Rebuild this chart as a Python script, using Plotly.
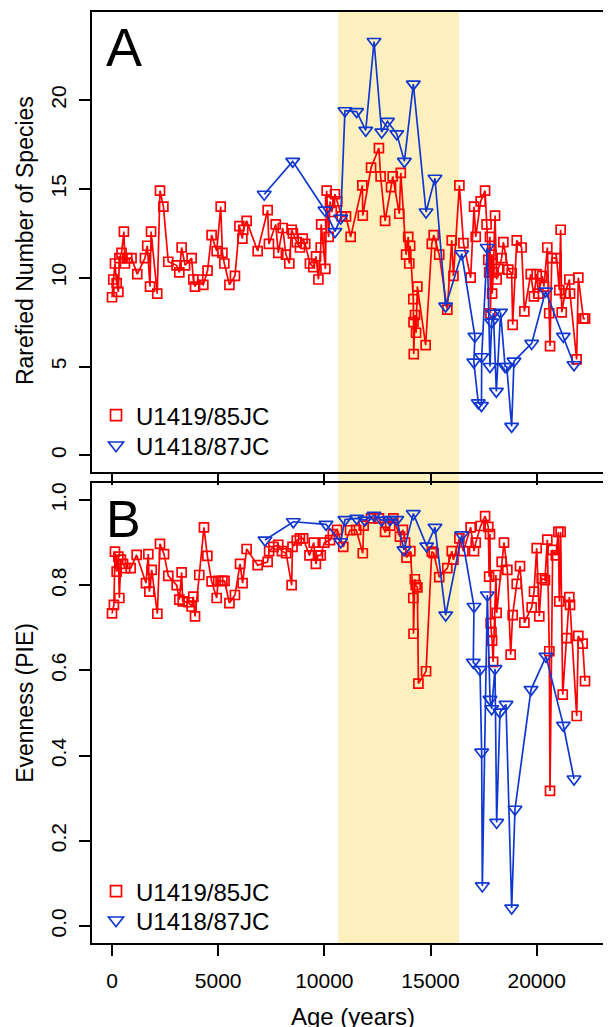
import plotly.graph_objects as go

# ---------------- data ----------------
red_a_age = [0, 60, 140, 220, 300, 350, 450, 560, 610, 720, 920, 1190, 1550, 1660, 1790, 1840,
             2130, 2260, 2420, 2650, 3040, 3170, 3280, 3440, 3750, 3830, 3910, 4060, 4300, 4500,
             4690, 4930, 5120, 5200, 5290, 5530, 5790, 6000, 6140, 6180, 6340, 6860, 7330, 7390,
             7710, 7830, 8040, 8190, 8350, 8460, 8520, 8700, 8850, 8980, 9100, 9320, 9480, 9610,
             9720, 9830, 9850, 10050, 10110, 10200, 10270, 10350, 10500, 10610, 10820, 11020,
             11240, 11790, 11810, 12200, 12570, 12650, 12860, 13140, 13220, 13530, 13600, 13850,
             13950, 14000, 14040, 14190, 14200, 14210, 14270, 14320, 14380, 14770, 15060, 15150,
             15410, 15790, 16000, 16080, 16360, 16550, 16890, 17050, 17130, 17360, 17570, 17640,
             17720, 17760, 17800, 17820, 17880, 17900, 17960, 18040, 18115, 18190, 18350, 18430,
             18660, 18820, 18870, 19060, 19290, 19420, 19720, 19870, 20000, 20080, 20260, 20340,
             20500, 20590, 20630, 20710, 20940, 21064, 21128, 21180, 21330, 21540, 21570, 21880,
             21960, 22200, 22280]
red_a_val = [8.9, 9.9, 10.8, 9.7, 9.2, 11.1, 11.4, 12.6, 10.8, 11.1, 11.1, 10.2, 11.1, 11.8, 9.5, 12.6,
             9.1, 14.9, 14.0, 10.9, 10.7, 10.3, 11.7, 10.7, 11.1, 9.9, 9.5, 9.9, 9.6, 10.4,
             12.4, 11.5, 14.0, 11.4, 10.8, 9.6, 10.1, 12.9, 12.2, 12.7, 13.2, 11.5, 13.8, 11.9,
             13.0, 11.4, 12.8, 11.3, 10.8, 12.7, 12.5, 12.0, 11.7, 12.2, 11.9, 10.8, 10.6, 11.2,
             9.9, 11.7, 13.0, 10.5, 14.9, 12.3, 14.3, 13.7, 14.7, 14.3, 13.45, 13.45,
             12.3, 15.2, 13.5, 16.2, 17.3, 15.7, 13.2, 15.1, 15.7, 13.6, 15.9, 11.3,
             12.3, 10.8, 11.8, 8.8, 7.5, 5.7, 7.9, 6.9, 9.5, 6.2, 11.9, 12.4,
             11.3, 8.2, 12.1, 10.1, 15.2, 11.95, 10.0, 14.0, 12.3, 14.3, 14.9, 13.0,
             11.0, 10.3, 12.3, 8.0, 11.3, 9.1, 10.3, 13.5, 9.9, 10.5, 11.1, 12.0,
             10.45, 10.26, 7.35, 12.1, 11.7, 8.1, 10.2, 8.95, 10.2, 9.1, 10.1, 9.5,
             11.7, 8.0, 6.15, 11.1, 11.1, 9.3, 12.7, 8.05, 9.1, 9.9, 9.1, 5.4,
             10.0, 7.7, 7.7]

blue_a_age = [7170, 8510, 10030, 10500, 10770, 10970, 11520, 11950, 12340, 12700, 12970, 13410,
              13770, 14190, 14790, 15210, 15710, 16470, 17090, 17040, 17250, 17400, 17410, 17670,
              17800, 17880, 17960, 18100, 18300, 18510, 18590, 18820, 18930, 19765, 20420, 21255,
              21757]
blue_a_val = [14.7, 16.55, 13.8, 12.6, 13.35, 19.4, 19.35, 18.3, 23.3, 18.2, 18.8, 18.1,
              16.55, 20.9, 13.7, 15.6, 8.4, 11.35, 6.7, 5.25, 2.95, 2.8, 5.55, 11.7,
              5.0, 7.5, 8.0, 3.6, 8.05, 5.0, 5.0, 1.63, 5.3, 6.3, 9.25, 6.7,
              5.1]

red_b_age = [0, 90, 140, 220, 300, 345, 420, 520, 620, 880, 1160, 1600, 1710, 1760, 1870, 2135,
             2260, 2450, 2650, 3045, 3170, 3280, 3330, 3600, 3750, 3830, 3910, 4110, 4330, 4490,
             4690, 4930, 5000, 5200, 5300, 5530, 5790, 6030, 6150, 6340, 6860, 7330, 7400, 7600,
             7830, 8000, 8200, 8460, 8500, 8700, 8850, 9000, 9300, 9500, 9600, 9700, 9830, 10000,
             10270, 10400, 10600, 10890, 11210, 11500, 11810, 11850, 12200, 12570, 12860, 13100,
             13250, 13560, 13700, 13800, 13870, 14050, 14190, 14200, 14260, 14300, 14380, 14430,
             14790, 15060, 15150, 15410, 15790, 16000, 16080, 16360, 16550, 16890, 17050, 17130,
             17360, 17570, 17720, 17760, 17800, 17830, 17870, 17900, 17950, 18080, 18115, 18350,
             18460, 18617, 18775, 18868, 19058, 19215, 19420, 19765, 19874, 20000, 20122, 20235,
             20390, 20500, 20594, 20627, 20753, 20900, 21020, 21064, 21128, 21226, 21413, 21536,
             21570, 21884, 21960, 22163, 22276]
red_b_val = [0.734, 0.754, 0.879, 0.832, 0.867, 0.77, 0.86, 0.85, 0.84, 0.84, 0.871, 0.805, 0.873,
             0.785, 0.836, 0.733,
             0.897, 0.873, 0.822, 0.80, 0.766, 0.83, 0.762, 0.76, 0.75, 0.773, 0.727, 0.824, 0.936,
             0.869,
             0.809, 0.77, 0.81, 0.81, 0.81, 0.758, 0.777, 0.85, 0.805, 0.885, 0.847, 0.855, 0.88,
             0.89,
             0.895, 0.88, 0.875, 0.80, 0.89, 0.905, 0.91, 0.91, 0.87, 0.90, 0.85, 0.87, 0.87, 0.90,
             0.906, 0.92, 0.93, 0.89, 0.929, 0.93, 0.875, 0.94, 0.957, 0.957, 0.925, 0.94,
             0.957, 0.914, 0.93, 0.90, 0.865, 0.88, 0.77, 0.686, 0.814, 0.80, 0.795, 0.569,
             0.598, 0.879, 0.875, 0.819, 0.84, 0.88, 0.86, 0.91, 0.88, 0.936, 0.88, 0.90,
             0.939, 0.962, 0.937, 0.82, 0.92, 0.711, 0.69, 0.67, 0.62, 0.824, 0.735, 0.855,
             0.90, 0.836, 0.637, 0.73, 0.803, 0.845, 0.712, 0.748, 0.785, 0.887, 0.727, 0.816,
             0.812, 0.907, 0.645, 0.317, 0.883, 0.87, 0.925, 0.762, 0.925, 0.543, 0.676, 0.772,
             0.754, 0.493, 0.681, 0.663, 0.575]

blue_b_age = [7205, 8539, 10078, 10768, 10973, 11523, 11914, 12338, 12700, 13091, 13407, 13752,
              14190, 14820, 15211, 15714, 16468, 17047, 17014, 17330, 17408, 17440, 17675, 17802,
              17880, 18037, 18115, 18272, 18555, 18822, 18978, 19733, 20438, 21255, 21757]
blue_b_val = [0.906, 0.949, 0.943, 0.902, 0.954, 0.957, 0.953, 0.964, 0.953, 0.954, 0.954, 0.883,
              0.968, 0.892, 0.936, 0.73, 0.918, 0.75, 0.619, 0.602, 0.408, 0.094, 0.777, 0.532,
              0.51, 0.604, 0.243, 0.502, 0.52, 0.042, 0.274, 0.555, 0.633, 0.471, 0.345]

series_names = ["U1419/85JC", "U1418/87JC"]
band = [10650, 16350]
x_ticks = [0, 5000, 10000, 15000, 20000]
x_ticktext = ["0", "5000", "10000", "15000", "20000"]
ya_ticks = [0, 5, 10, 15, 20]
yb_ticks = [0, 0.2, 0.4, 0.6, 0.8, 1.0]

# ---------------- style ----------------
RED = "#FF0000"
BLUE = "#1038D0"
FONT = "Liberation Sans"
LW = 1.7

fig = go.Figure()

def add_series(x, y, color, symbol, size, xa, ya):
    fig.add_trace(go.Scatter(
        x=x, y=y, mode="lines+markers", xaxis=xa, yaxis=ya, showlegend=False,
        line=dict(color=color, width=LW),
        marker=dict(symbol=symbol, size=size, color=color, line=dict(color=color, width=LW)),
    ))

add_series(red_a_age, red_a_val, RED, "square-open", 9, "x", "y")
add_series(blue_a_age, blue_a_val, BLUE, "triangle-down-open", 12, "x", "y")
add_series(red_b_age, red_b_val, RED, "square-open", 9, "x2", "y2")
add_series(blue_b_age, blue_b_val, BLUE, "triangle-down-open", 12, "x2", "y2")

# legend entries: one legend box per entry for exact placement
legend_defs = [
    ("legend", series_names[0], "square-open", 11, RED, "x", "y", 0.5907),
    ("legend2", series_names[1], "triangle-down-open", 13, BLUE, "x", "y", 0.5584),
    ("legend3", series_names[0], "square-open", 11, RED, "x2", "y2", 0.0794),
    ("legend4", series_names[1], "triangle-down-open", 13, BLUE, "x2", "y2", 0.0482),
]
legend_layout = {}
for lg, name, sym, sz, col, xa, ya, ly in legend_defs:
    fig.add_trace(go.Scatter(x=[None], y=[None], mode="markers", name=name,
                             xaxis=xa, yaxis=ya, legend=lg,
                             marker=dict(symbol=sym, size=sz, color=col,
                                         line=dict(color=col, width=LW))))
    legend_layout[lg] = dict(x=0.0076, y=ly, xanchor="left", yanchor="top",
                             bgcolor="rgba(0,0,0,0)",
                             font=dict(family=FONT, size=24, color="black"))

# page has an 8px body margin; plot area placed to match the reference
XR = [-942, 23876]
axis_common = dict(showline=True, linecolor="black", linewidth=1.5, ticks="outside",
                   ticklen=11, tickwidth=1.5, tickcolor="black", showgrid=False, zeroline=False,
                   automargin=False,
                   tickfont=dict(family=FONT, size=21, color="black"))

fig.update_layout(
    width=611, height=1027,
    margin=dict(l=84, r=0, t=4.3, b=91.7, autoexpand=False),
    paper_bgcolor="white", plot_bgcolor="white",
    font=dict(family=FONT, color="black"),
    xaxis=dict(domain=[0, 1], anchor="y", range=XR, tickvals=x_ticks, showticklabels=False,
               mirror=True, **axis_common),
    yaxis=dict(domain=[0.5055, 1], anchor="x", range=[-0.96, 24.96], tickvals=ya_ticks,
               tickangle=-90, ticklabelstandoff=5, **axis_common),
    xaxis2=dict(domain=[0, 1], anchor="y2", range=XR, tickvals=x_ticks, ticktext=x_ticktext,
                mirror=True, ticklabelstandoff=7, **axis_common),
    yaxis2=dict(domain=[0, 0.4941], anchor="x2", range=[-0.04, 1.04], tickvals=yb_ticks,
                tickformat=".1f", tickangle=-90, ticklabelstandoff=5, **axis_common),
    **legend_layout,
)

fig.add_shape(type="rect", xref="x", yref="paper", x0=band[0], x1=band[1], y0=0, y1=1,
              fillcolor="#FDF0BF", line=dict(width=0), layer="below")

annos = [
    dict(text="A", x=0.0228, y=0.962, xanchor="left", yanchor="middle", font=dict(size=54)),
    dict(text="B", x=0.0228, y=0.455, xanchor="left", yanchor="middle", font=dict(size=52)),
    dict(text="Rarefied Number of Species", x=-0.127, y=0.754, textangle=-90,
         xanchor="center", yanchor="middle", font=dict(size=23)),
    dict(text="Evenness (PIE)", x=-0.127, y=0.258, textangle=-90,
         xanchor="center", yanchor="middle", font=dict(size=23)),
    dict(text="Age (years)", x=0.495, y=-0.079, xanchor="center", yanchor="middle",
         font=dict(size=24)),
]
for a in annos:
    a["font"].update(family=FONT, color="black")
    fig.add_annotation(xref="paper", yref="paper", showarrow=False, **a)

fig.write_html("out.html")
